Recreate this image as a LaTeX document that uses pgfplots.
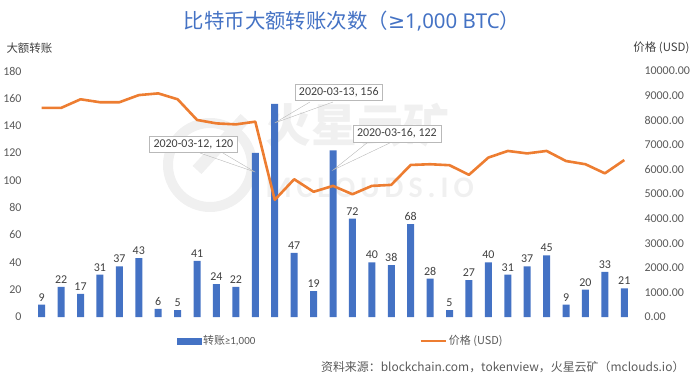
\documentclass[border=0pt]{standalone}
\usepackage{pgfplots}
\pgfplotsset{compat=1.18}
\usepackage{fontspec}
\setmainfont{Carlito}
\newfontfamily\cjk{Noto Sans CJK SC}
\newfontfamily\nsans{Noto Sans}
\newfontfamily\dejavu{DejaVu Sans}
\definecolor{barblue}{HTML}{4472C4}
\definecolor{lineorange}{HTML}{ED7D31}
\definecolor{txt}{HTML}{595959}
\definecolor{txtdark}{HTML}{404040}
\definecolor{titleblue}{HTML}{4472C4}
\definecolor{wm}{HTML}{F0F0F0}
\begin{document}
\begin{tikzpicture}
\path[use as bounding box] (0bp,0bp) rectangle (696bp,378bp);
% watermark
\draw[wm, line width=10bp] (210bp,213bp) circle (42bp);
\draw[wm, line width=12bp] (197bp,208bp) -- (245bp,260bp);
\node[text=wm, font=\cjk\bfseries\fontsize{46}{46}\selectfont, anchor=west] at (262bp,253bp) {火星云矿};
\node[text=wm, font=\bfseries\fontsize{30}{30}\selectfont, anchor=west] at (262bp,190bp) {M\,C\,L\,O\,U\,D\,S\,.\,I\,O};
% titles
\node[text=titleblue, font=\cjk\fontsize{20.5}{20.5}\selectfont] at (352bp,357bp) {比特币大额转账次数（{\dejavu ≥}{\nsans 1,000 BTC}）};
\node[text=txtdark, font=\cjk\fontsize{11.5}{11.5}\selectfont, anchor=west] at (3bp,330bp) {大额转账};
\node[text=txtdark, font=\cjk\fontsize{11.5}{11.5}\selectfont, anchor=east] at (693bp,330bp) {价格 (USD)};
\node[text=txt, font=\cjk\fontsize{12}{12}\selectfont, anchor=east] at (688bp,11bp) {资料来源：blockchain.com，tokenview，火星云矿（mclouds.io）};

\begin{axis}[
  at={(32bp,61bp)}, anchor=south west, scale only axis,
  width=602bp, height=246bp,
  xmin=-0.5, xmax=30.5, ymin=0, ymax=180,
  ytick={0,20,...,180}, xtick=\empty,
  axis line style={draw=none}, major tick style={draw=none},
  /pgf/number format/assume math mode=true,
  yticklabel style={font=\fontsize{12}{12}\selectfont, text=txt, xshift=-7bp},
  clip=false,
]
\addplot[ybar, bar width=7bp, bar shift=0pt, fill=barblue, draw=none,
  nodes near coords, nodes near coords style={font=\fontsize{12}{12}\selectfont, text=txtdark, /pgf/number format/assume math mode=true}]
  coordinates {(0,9) (1,22) (2,17) (3,31) (4,37) (5,43) (6,6) (7,5) (8,41) (9,24) (10,22)
  (13,47) (14,19) (16,72) (17,40) (18,38) (19,68) (20,28) (21,5) (22,27) (23,40) (24,31)
  (25,37) (26,45) (27,9) (28,20) (29,33) (30,21)};
\addplot[ybar, bar width=7bp, bar shift=0pt, fill=barblue, draw=none]
  coordinates {(11,120) (12,156) (15,122)};
% callouts
\draw[gray!55] (axis cs:8.15,120) -- (axis cs:11,106) -- (axis cs:9.33,120);
\draw[gray!55] (axis cs:13.81,157.3) -- (axis cs:12,142) -- (axis cs:15.0,157.3);
\draw[gray!55] (axis cs:16.74,127.3) -- (axis cs:15,107.5) -- (axis cs:17.92,127.3);
\node[draw=gray!55, fill=white, font=\fontsize{12}{12}\selectfont, text=txtdark, inner xsep=4bp, inner ysep=3.5bp] at (axis cs:7.81,126.2) {2020-03-12, 120};
\node[draw=gray!55, fill=white, font=\fontsize{12}{12}\selectfont, text=txtdark, inner xsep=4bp, inner ysep=3.5bp] at (axis cs:15.30,164.6) {2020-03-13, 156};
\node[draw=gray!55, fill=white, font=\fontsize{12}{12}\selectfont, text=txtdark, inner xsep=4bp, inner ysep=3.5bp] at (axis cs:18.29,134.2) {2020-03-16, 122};
\end{axis}

\begin{axis}[
  at={(32bp,61bp)}, anchor=south west, scale only axis,
  width=602bp, height=246bp,
  xmin=-0.5, xmax=30.5, ymin=0, ymax=10000,
  axis y line*=right, hide x axis,
  ytick={0,1000,...,10000}, scaled y ticks=false,
  axis line style={draw=none}, major tick style={draw=none},
  /pgf/number format/assume math mode=true,
  yticklabel={\pgfmathprintnumber[fixed,fixed zerofill,precision=2,1000 sep={}]{\tick}},
  yticklabel style={font=\fontsize{12}{12}\selectfont, text=txt, anchor=west, xshift=7bp},
  legend columns=2,
  legend style={at={(0.235,-0.098)}, anchor=west, draw=none, fill=none,
    font=\cjk\fontsize{11}{11}\selectfont, text=txt,
    /tikz/every even column/.append style={column sep=162bp}},
]
\addlegendimage{legend image code/.code={\fill[barblue] (0bp,-3bp) rectangle (24bp,3bp);}}
\addlegendentry{转账{\fontspec{Carlito}≥1,000}}
\addplot[lineorange, line width=2.6bp, line join=round,
  legend image code/.code={\draw[lineorange, line width=2.6bp] (0bp,0bp) -- (25bp,0bp);}]
  coordinates {(0,8500) (1,8500) (2,8850) (3,8730) (4,8730) (5,9020) (6,9090) (7,8850)
  (8,8010) (9,7870) (10,7830) (11,7940) (12,4760) (13,5600) (14,5090) (15,5330) (16,4990)
  (17,5330) (18,5370) (19,6180) (20,6210) (21,6170) (22,5780) (23,6480) (24,6750) (25,6650)
  (26,6750) (27,6340) (28,6210) (29,5840) (30,6380)};
\addlegendentry{价格 (USD)}
\end{axis}
\end{tikzpicture}
\end{document}
